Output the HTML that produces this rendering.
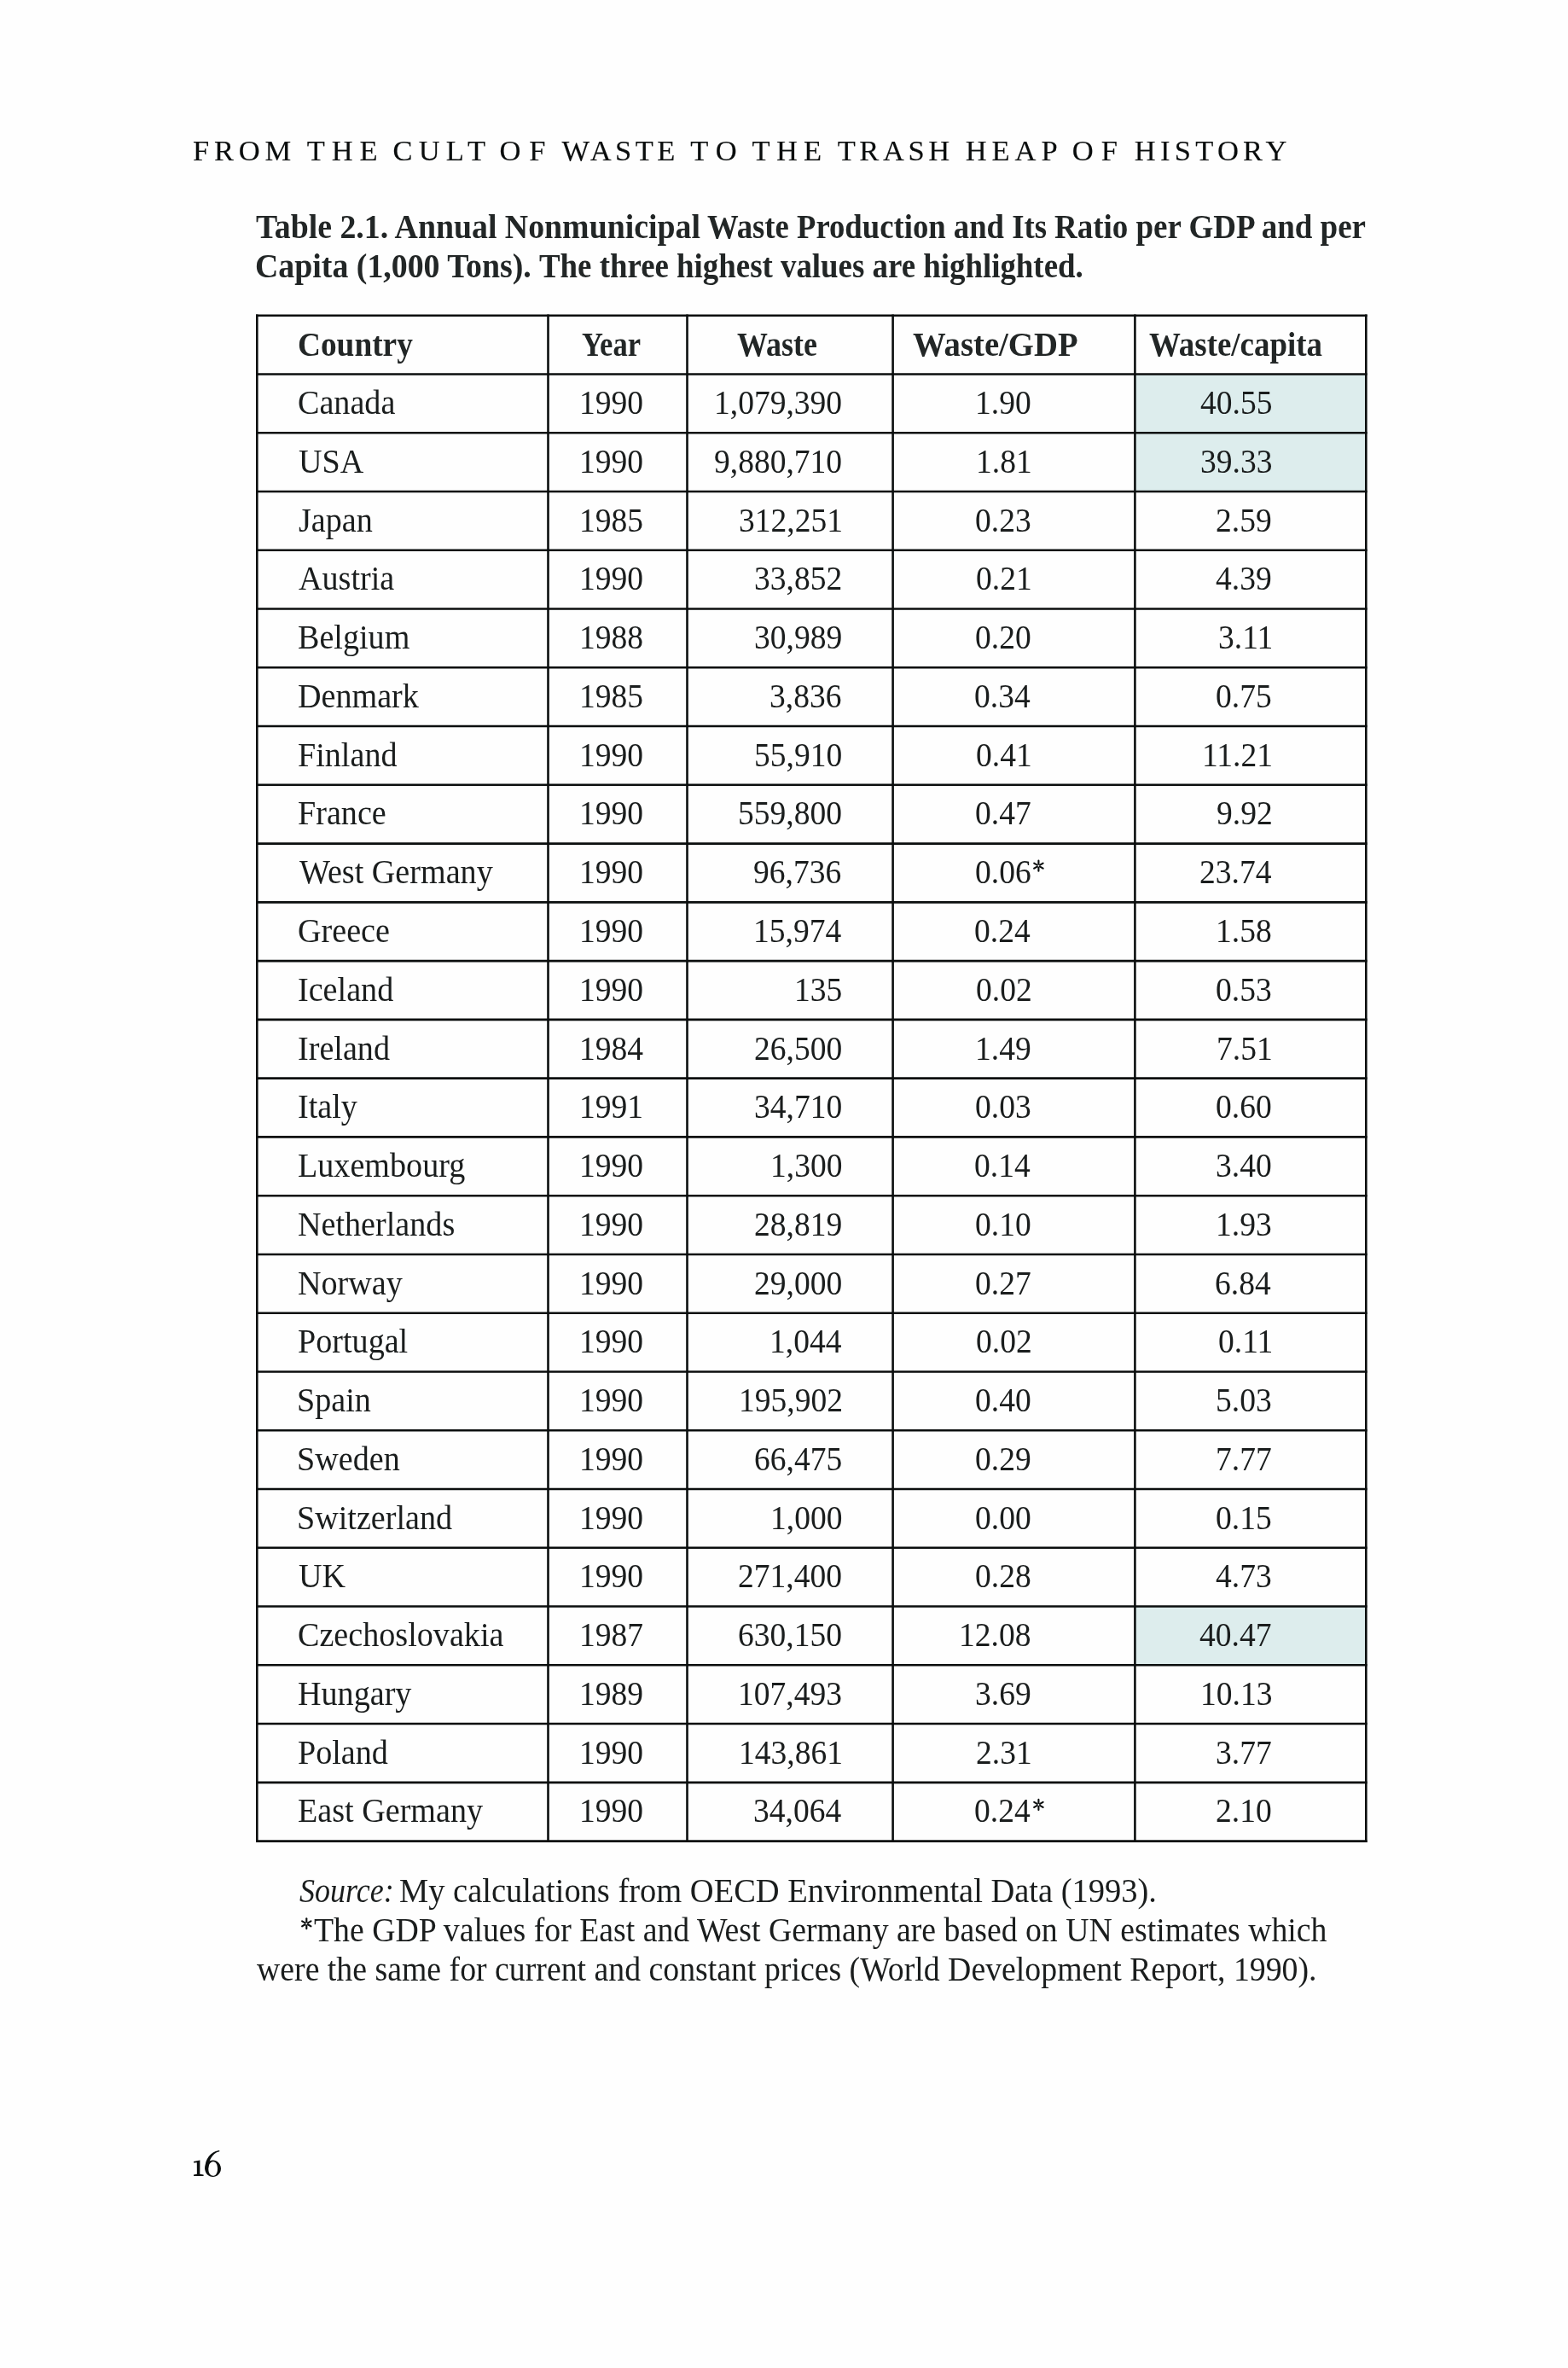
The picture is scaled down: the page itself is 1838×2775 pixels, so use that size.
<!DOCTYPE html>
<html><head><meta charset="utf-8"><style>
html,body{margin:0;padding:0;background:#fefefe;}
#pg{position:relative;width:1838px;height:2775px;overflow:hidden;background:#fefefe;}
#txt{position:absolute;left:0;top:0;width:1838px;height:2775px;will-change:transform;}
#pg span{position:absolute;white-space:nowrap;font-family:"Liberation Serif",serif;color:#1a1d1d;transform-origin:0 0;}
</style></head><body><div id="pg">
<svg width="1838" height="2775" style="position:absolute;left:0;top:0"><rect x="1330.4" y="438.465" width="270.89999999999986" height="68.765" fill="#ddeded"/><rect x="1330.4" y="507.23" width="270.89999999999986" height="68.765" fill="#ddeded"/><rect x="1330.4" y="1882.53" width="270.89999999999986" height="68.765" fill="#ddeded"/><line x1="301.3" y1="368.4" x2="301.3" y2="2158.8900000000003" stroke="#0b0e0e" stroke-width="2.6"/><line x1="642.5" y1="368.4" x2="642.5" y2="2158.8900000000003" stroke="#0b0e0e" stroke-width="2.6"/><line x1="805.5" y1="368.4" x2="805.5" y2="2158.8900000000003" stroke="#0b0e0e" stroke-width="2.6"/><line x1="1046.6" y1="368.4" x2="1046.6" y2="2158.8900000000003" stroke="#0b0e0e" stroke-width="2.6"/><line x1="1330.4" y1="368.4" x2="1330.4" y2="2158.8900000000003" stroke="#0b0e0e" stroke-width="2.6"/><line x1="1601.3" y1="368.4" x2="1601.3" y2="2158.8900000000003" stroke="#0b0e0e" stroke-width="2.6"/><line x1="300.0" y1="369.7" x2="1602.6" y2="369.7" stroke="#0b0e0e" stroke-width="2.6"/><line x1="300.0" y1="438.465" x2="1602.6" y2="438.465" stroke="#0b0e0e" stroke-width="2.6"/><line x1="300.0" y1="507.23" x2="1602.6" y2="507.23" stroke="#0b0e0e" stroke-width="2.6"/><line x1="300.0" y1="575.995" x2="1602.6" y2="575.995" stroke="#0b0e0e" stroke-width="2.6"/><line x1="300.0" y1="644.76" x2="1602.6" y2="644.76" stroke="#0b0e0e" stroke-width="2.6"/><line x1="300.0" y1="713.525" x2="1602.6" y2="713.525" stroke="#0b0e0e" stroke-width="2.6"/><line x1="300.0" y1="782.29" x2="1602.6" y2="782.29" stroke="#0b0e0e" stroke-width="2.6"/><line x1="300.0" y1="851.0550000000001" x2="1602.6" y2="851.0550000000001" stroke="#0b0e0e" stroke-width="2.6"/><line x1="300.0" y1="919.8199999999999" x2="1602.6" y2="919.8199999999999" stroke="#0b0e0e" stroke-width="2.6"/><line x1="300.0" y1="988.585" x2="1602.6" y2="988.585" stroke="#0b0e0e" stroke-width="2.6"/><line x1="300.0" y1="1057.35" x2="1602.6" y2="1057.35" stroke="#0b0e0e" stroke-width="2.6"/><line x1="300.0" y1="1126.115" x2="1602.6" y2="1126.115" stroke="#0b0e0e" stroke-width="2.6"/><line x1="300.0" y1="1194.88" x2="1602.6" y2="1194.88" stroke="#0b0e0e" stroke-width="2.6"/><line x1="300.0" y1="1263.645" x2="1602.6" y2="1263.645" stroke="#0b0e0e" stroke-width="2.6"/><line x1="300.0" y1="1332.41" x2="1602.6" y2="1332.41" stroke="#0b0e0e" stroke-width="2.6"/><line x1="300.0" y1="1401.175" x2="1602.6" y2="1401.175" stroke="#0b0e0e" stroke-width="2.6"/><line x1="300.0" y1="1469.94" x2="1602.6" y2="1469.94" stroke="#0b0e0e" stroke-width="2.6"/><line x1="300.0" y1="1538.7050000000002" x2="1602.6" y2="1538.7050000000002" stroke="#0b0e0e" stroke-width="2.6"/><line x1="300.0" y1="1607.47" x2="1602.6" y2="1607.47" stroke="#0b0e0e" stroke-width="2.6"/><line x1="300.0" y1="1676.2350000000001" x2="1602.6" y2="1676.2350000000001" stroke="#0b0e0e" stroke-width="2.6"/><line x1="300.0" y1="1745.0" x2="1602.6" y2="1745.0" stroke="#0b0e0e" stroke-width="2.6"/><line x1="300.0" y1="1813.765" x2="1602.6" y2="1813.765" stroke="#0b0e0e" stroke-width="2.6"/><line x1="300.0" y1="1882.53" x2="1602.6" y2="1882.53" stroke="#0b0e0e" stroke-width="2.6"/><line x1="300.0" y1="1951.295" x2="1602.6" y2="1951.295" stroke="#0b0e0e" stroke-width="2.6"/><line x1="300.0" y1="2020.0600000000002" x2="1602.6" y2="2020.0600000000002" stroke="#0b0e0e" stroke-width="2.6"/><line x1="300.0" y1="2088.825" x2="1602.6" y2="2088.825" stroke="#0b0e0e" stroke-width="2.6"/><line x1="300.0" y1="2157.59" x2="1602.6" y2="2157.59" stroke="#0b0e0e" stroke-width="2.6"/><line x1="1217.40" y1="1012.74" x2="1217.40" y2="1008.64" stroke="#0b0e0e" stroke-width="2.1" stroke-linecap="round"/><line x1="1215.75" y1="1013.69" x2="1212.20" y2="1011.64" stroke="#0b0e0e" stroke-width="2.1" stroke-linecap="round"/><line x1="1215.75" y1="1015.59" x2="1212.20" y2="1017.64" stroke="#0b0e0e" stroke-width="2.1" stroke-linecap="round"/><line x1="1217.40" y1="1016.54" x2="1217.40" y2="1020.64" stroke="#0b0e0e" stroke-width="2.1" stroke-linecap="round"/><line x1="1219.05" y1="1015.59" x2="1222.60" y2="1017.64" stroke="#0b0e0e" stroke-width="2.1" stroke-linecap="round"/><line x1="1219.05" y1="1013.69" x2="1222.60" y2="1011.64" stroke="#0b0e0e" stroke-width="2.1" stroke-linecap="round"/><line x1="1217.40" y1="2112.97" x2="1217.40" y2="2108.88" stroke="#0b0e0e" stroke-width="2.1" stroke-linecap="round"/><line x1="1215.75" y1="2113.93" x2="1212.20" y2="2111.88" stroke="#0b0e0e" stroke-width="2.1" stroke-linecap="round"/><line x1="1215.75" y1="2115.82" x2="1212.20" y2="2117.88" stroke="#0b0e0e" stroke-width="2.1" stroke-linecap="round"/><line x1="1217.40" y1="2116.78" x2="1217.40" y2="2120.88" stroke="#0b0e0e" stroke-width="2.1" stroke-linecap="round"/><line x1="1219.05" y1="2115.82" x2="1222.60" y2="2117.88" stroke="#0b0e0e" stroke-width="2.1" stroke-linecap="round"/><line x1="1219.05" y1="2113.93" x2="1222.60" y2="2111.88" stroke="#0b0e0e" stroke-width="2.1" stroke-linecap="round"/><line x1="359.30" y1="2252.40" x2="359.30" y2="2248.30" stroke="#0b0e0e" stroke-width="2.1" stroke-linecap="round"/><line x1="357.65" y1="2253.35" x2="354.10" y2="2251.30" stroke="#0b0e0e" stroke-width="2.1" stroke-linecap="round"/><line x1="357.65" y1="2255.25" x2="354.10" y2="2257.30" stroke="#0b0e0e" stroke-width="2.1" stroke-linecap="round"/><line x1="359.30" y1="2256.20" x2="359.30" y2="2260.30" stroke="#0b0e0e" stroke-width="2.1" stroke-linecap="round"/><line x1="360.95" y1="2255.25" x2="364.50" y2="2257.30" stroke="#0b0e0e" stroke-width="2.1" stroke-linecap="round"/><line x1="360.95" y1="2253.35" x2="364.50" y2="2251.30" stroke="#0b0e0e" stroke-width="2.1" stroke-linecap="round"/><path fill="#0b0e0e" fill-rule="evenodd" d="M249.6,2531.6 C254.9,2531.6 259.0,2535.9 259.0,2541.3 C259.0,2546.7 254.9,2551.0 249.6,2551.0 C244.3,2551.0 240.2,2546.7 240.2,2541.3 C240.2,2535.9 244.3,2531.6 249.6,2531.6 Z M249.8,2533.2 C247.2,2533.2 244.3,2535.8 244.3,2541.6 C244.3,2547.2 246.9,2549.8 249.8,2549.8 C252.7,2549.8 255.0,2547.0 255.0,2541.4 C255.0,2535.6 252.6,2533.2 249.8,2533.2 Z"/><path fill="#0b0e0e" d="M240.3,2542.5 C239.8,2529.5 247.5,2521.0 257.2,2520.0 L257.3,2521.2 C250.0,2523.2 244.8,2530.0 244.3,2540.5 Z"/><path fill="#0b0e0e" d="M227.0,2532.9 L234.4,2531.6 L234.3,2547.8 L238.6,2548.6 L238.6,2549.9 L227.0,2549.9 L227.0,2548.6 L230.9,2547.8 L230.8,2534.2 L227.1,2534.6 Z"/></svg>
<div id="txt"><span style="left:226.05px;top:159.00px;font-size:34.5px;line-height:34.5px;font-weight:normal;font-style:normal;letter-spacing:5.759px;color:#0a0d0d;-webkit-text-stroke:0.15px #0a0d0d;">FROM</span>
<span style="left:359.70px;top:159.00px;font-size:34.5px;line-height:34.5px;font-weight:normal;font-style:normal;letter-spacing:7.906px;color:#0a0d0d;-webkit-text-stroke:0.15px #0a0d0d;">THE</span>
<span style="left:460.52px;top:159.00px;font-size:34.5px;line-height:34.5px;font-weight:normal;font-style:normal;letter-spacing:7.215px;color:#0a0d0d;-webkit-text-stroke:0.15px #0a0d0d;">CULT</span>
<span style="left:585.62px;top:159.00px;font-size:34.5px;line-height:34.5px;font-weight:normal;font-style:normal;letter-spacing:9.614px;color:#0a0d0d;-webkit-text-stroke:0.15px #0a0d0d;">OF</span>
<span style="left:658.40px;top:159.00px;font-size:34.5px;line-height:34.5px;font-weight:normal;font-style:normal;letter-spacing:4.513px;color:#0a0d0d;-webkit-text-stroke:0.15px #0a0d0d;">WASTE</span>
<span style="left:809.30px;top:159.00px;font-size:34.5px;line-height:34.5px;font-weight:normal;font-style:normal;letter-spacing:8.916px;color:#0a0d0d;-webkit-text-stroke:0.15px #0a0d0d;">TO</span>
<span style="left:881.60px;top:159.00px;font-size:34.5px;line-height:34.5px;font-weight:normal;font-style:normal;letter-spacing:7.256px;color:#0a0d0d;-webkit-text-stroke:0.15px #0a0d0d;">THE</span>
<span style="left:981.70px;top:159.00px;font-size:34.5px;line-height:34.5px;font-weight:normal;font-style:normal;letter-spacing:4.566px;color:#0a0d0d;-webkit-text-stroke:0.15px #0a0d0d;">TRASH</span>
<span style="left:1131.75px;top:159.00px;font-size:34.5px;line-height:34.5px;font-weight:normal;font-style:normal;letter-spacing:5.932px;color:#0a0d0d;-webkit-text-stroke:0.15px #0a0d0d;">HEAP</span>
<span style="left:1256.82px;top:159.00px;font-size:34.5px;line-height:34.5px;font-weight:normal;font-style:normal;letter-spacing:9.014px;color:#0a0d0d;-webkit-text-stroke:0.15px #0a0d0d;">OF</span>
<span style="left:1329.85px;top:159.00px;font-size:34.5px;line-height:34.5px;font-weight:normal;font-style:normal;letter-spacing:5.257px;color:#0a0d0d;-webkit-text-stroke:0.15px #0a0d0d;">HISTORY</span>
<span style="left:300.33px;top:246.00px;font-size:40px;line-height:40px;font-weight:bold;font-style:normal;transform:scaleX(0.9456);color:#222626;">Table 2.1. Annual Nonmunicipal</span>
<span style="left:829.25px;top:246.00px;font-size:40px;line-height:40px;font-weight:bold;font-style:normal;transform:scaleX(0.9174);color:#222626;">Waste Production and Its</span>
<span style="left:1236.15px;top:246.00px;font-size:40px;line-height:40px;font-weight:bold;font-style:normal;transform:scaleX(0.9245);color:#222626;">Ratio per GDP and per</span>
<span style="left:299.20px;top:292.00px;font-size:40px;line-height:40px;font-weight:bold;font-style:normal;transform:scaleX(0.9460);color:#222626;">Capita (1,000 Tons).</span>
<span style="left:631.75px;top:292.00px;font-size:40px;line-height:40px;font-weight:bold;font-style:normal;transform:scaleX(0.9217);color:#222626;">The three highest values are highlighted.</span>
<span style="left:348.73px;top:384.00px;font-size:40px;line-height:40px;font-weight:bold;font-style:normal;transform:scaleX(0.9332);color:#222626;">Country</span>
<span style="left:681.70px;top:384.00px;font-size:40px;line-height:40px;font-weight:bold;font-style:normal;transform:scaleX(0.8622);color:#222626;">Year</span>
<span style="left:864.16px;top:384.00px;font-size:40px;line-height:40px;font-weight:bold;font-style:normal;transform:scaleX(0.8988);color:#222626;">Waste</span>
<span style="left:1069.92px;top:384.00px;font-size:40px;line-height:40px;font-weight:bold;font-style:normal;transform:scaleX(0.9682);color:#222626;">Waste/GDP</span>
<span style="left:1346.75px;top:384.00px;font-size:40px;line-height:40px;font-weight:bold;font-style:normal;transform:scaleX(0.9223);color:#222626;">Waste/capita</span>
<span style="left:348.97px;top:452.00px;font-size:40px;line-height:40px;font-weight:normal;font-style:normal;transform:scaleX(0.9533);">Canada</span>
<span style="left:678.72px;top:452.00px;font-size:40px;line-height:40px;font-weight:normal;font-style:normal;transform:scaleX(0.9379);">1990</span>
<span style="left:836.85px;top:452.00px;font-size:40px;line-height:40px;font-weight:normal;font-style:normal;transform:scaleX(0.9379);">1,079,390</span>
<span style="left:1143.06px;top:452.00px;font-size:40px;line-height:40px;font-weight:normal;font-style:normal;transform:scaleX(0.9379);">1.90</span>
<span style="left:1406.59px;top:452.00px;font-size:40px;line-height:40px;font-weight:normal;font-style:normal;transform:scaleX(0.9379);">40.55</span>
<span style="left:349.74px;top:521.00px;font-size:40px;line-height:40px;font-weight:normal;font-style:normal;transform:scaleX(0.9533);">USA</span>
<span style="left:678.72px;top:521.00px;font-size:40px;line-height:40px;font-weight:normal;font-style:normal;transform:scaleX(0.9379);">1990</span>
<span style="left:836.85px;top:521.00px;font-size:40px;line-height:40px;font-weight:normal;font-style:normal;transform:scaleX(0.9379);">9,880,710</span>
<span style="left:1143.90px;top:521.00px;font-size:40px;line-height:40px;font-weight:normal;font-style:normal;transform:scaleX(0.9379);">1.81</span>
<span style="left:1406.59px;top:521.00px;font-size:40px;line-height:40px;font-weight:normal;font-style:normal;transform:scaleX(0.9379);">39.33</span>
<span style="left:349.74px;top:590.00px;font-size:40px;line-height:40px;font-weight:normal;font-style:normal;transform:scaleX(0.9533);">Japan</span>
<span style="left:678.72px;top:590.00px;font-size:40px;line-height:40px;font-weight:normal;font-style:normal;transform:scaleX(0.9379);">1985</span>
<span style="left:865.83px;top:590.00px;font-size:40px;line-height:40px;font-weight:normal;font-style:normal;transform:scaleX(0.9379);">312,251</span>
<span style="left:1143.15px;top:590.00px;font-size:40px;line-height:40px;font-weight:normal;font-style:normal;transform:scaleX(0.9379);">0.23</span>
<span style="left:1425.35px;top:590.00px;font-size:40px;line-height:40px;font-weight:normal;font-style:normal;transform:scaleX(0.9379);">2.59</span>
<span style="left:350.12px;top:658.00px;font-size:40px;line-height:40px;font-weight:normal;font-style:normal;transform:scaleX(0.9533);">Austria</span>
<span style="left:678.72px;top:658.00px;font-size:40px;line-height:40px;font-weight:normal;font-style:normal;transform:scaleX(0.9379);">1990</span>
<span style="left:884.40px;top:658.00px;font-size:40px;line-height:40px;font-weight:normal;font-style:normal;transform:scaleX(0.9379);">33,852</span>
<span style="left:1143.90px;top:658.00px;font-size:40px;line-height:40px;font-weight:normal;font-style:normal;transform:scaleX(0.9379);">0.21</span>
<span style="left:1425.35px;top:658.00px;font-size:40px;line-height:40px;font-weight:normal;font-style:normal;transform:scaleX(0.9379);">4.39</span>
<span style="left:349.45px;top:727.00px;font-size:40px;line-height:40px;font-weight:normal;font-style:normal;transform:scaleX(0.9533);">Belgium</span>
<span style="left:678.72px;top:727.00px;font-size:40px;line-height:40px;font-weight:normal;font-style:normal;transform:scaleX(0.9379);">1988</span>
<span style="left:883.83px;top:727.00px;font-size:40px;line-height:40px;font-weight:normal;font-style:normal;transform:scaleX(0.9379);">30,989</span>
<span style="left:1143.06px;top:727.00px;font-size:40px;line-height:40px;font-weight:normal;font-style:normal;transform:scaleX(0.9379);">0.20</span>
<span style="left:1427.51px;top:727.00px;font-size:40px;line-height:40px;font-weight:normal;font-style:normal;transform:scaleX(0.9379);">3.11</span>
<span style="left:349.45px;top:796.00px;font-size:40px;line-height:40px;font-weight:normal;font-style:normal;transform:scaleX(0.9533);">Denmark</span>
<span style="left:678.72px;top:796.00px;font-size:40px;line-height:40px;font-weight:normal;font-style:normal;transform:scaleX(0.9379);">1985</span>
<span style="left:902.22px;top:796.00px;font-size:40px;line-height:40px;font-weight:normal;font-style:normal;transform:scaleX(0.9379);">3,836</span>
<span style="left:1142.21px;top:796.00px;font-size:40px;line-height:40px;font-weight:normal;font-style:normal;transform:scaleX(0.9379);">0.34</span>
<span style="left:1425.35px;top:796.00px;font-size:40px;line-height:40px;font-weight:normal;font-style:normal;transform:scaleX(0.9379);">0.75</span>
<span style="left:349.45px;top:865.00px;font-size:40px;line-height:40px;font-weight:normal;font-style:normal;transform:scaleX(0.9533);">Finland</span>
<span style="left:678.72px;top:865.00px;font-size:40px;line-height:40px;font-weight:normal;font-style:normal;transform:scaleX(0.9379);">1990</span>
<span style="left:883.74px;top:865.00px;font-size:40px;line-height:40px;font-weight:normal;font-style:normal;transform:scaleX(0.9379);">55,910</span>
<span style="left:1143.90px;top:865.00px;font-size:40px;line-height:40px;font-weight:normal;font-style:normal;transform:scaleX(0.9379);">0.41</span>
<span style="left:1408.75px;top:865.00px;font-size:40px;line-height:40px;font-weight:normal;font-style:normal;transform:scaleX(0.9379);">11.21</span>
<span style="left:349.45px;top:933.00px;font-size:40px;line-height:40px;font-weight:normal;font-style:normal;transform:scaleX(0.9533);">France</span>
<span style="left:678.72px;top:933.00px;font-size:40px;line-height:40px;font-weight:normal;font-style:normal;transform:scaleX(0.9379);">1990</span>
<span style="left:864.98px;top:933.00px;font-size:40px;line-height:40px;font-weight:normal;font-style:normal;transform:scaleX(0.9379);">559,800</span>
<span style="left:1142.68px;top:933.00px;font-size:40px;line-height:40px;font-weight:normal;font-style:normal;transform:scaleX(0.9379);">0.47</span>
<span style="left:1425.91px;top:933.00px;font-size:40px;line-height:40px;font-weight:normal;font-style:normal;transform:scaleX(0.9379);">9.92</span>
<span style="left:350.50px;top:1002.00px;font-size:40px;line-height:40px;font-weight:normal;font-style:normal;transform:scaleX(0.9533);">West Germany</span>
<span style="left:678.72px;top:1002.00px;font-size:40px;line-height:40px;font-weight:normal;font-style:normal;transform:scaleX(0.9379);">1990</span>
<span style="left:883.46px;top:1002.00px;font-size:40px;line-height:40px;font-weight:normal;font-style:normal;transform:scaleX(0.9379);">96,736</span>
<span style="left:1142.77px;top:1002.00px;font-size:40px;line-height:40px;font-weight:normal;font-style:normal;transform:scaleX(0.9379);">0.06</span>
<span style="left:1405.65px;top:1002.00px;font-size:40px;line-height:40px;font-weight:normal;font-style:normal;transform:scaleX(0.9379);">23.74</span>
<span style="left:348.97px;top:1071.00px;font-size:40px;line-height:40px;font-weight:normal;font-style:normal;transform:scaleX(0.9533);">Greece</span>
<span style="left:678.72px;top:1071.00px;font-size:40px;line-height:40px;font-weight:normal;font-style:normal;transform:scaleX(0.9379);">1990</span>
<span style="left:882.90px;top:1071.00px;font-size:40px;line-height:40px;font-weight:normal;font-style:normal;transform:scaleX(0.9379);">15,974</span>
<span style="left:1142.21px;top:1071.00px;font-size:40px;line-height:40px;font-weight:normal;font-style:normal;transform:scaleX(0.9379);">0.24</span>
<span style="left:1425.26px;top:1071.00px;font-size:40px;line-height:40px;font-weight:normal;font-style:normal;transform:scaleX(0.9379);">1.58</span>
<span style="left:349.17px;top:1140.00px;font-size:40px;line-height:40px;font-weight:normal;font-style:normal;transform:scaleX(0.9533);">Iceland</span>
<span style="left:678.72px;top:1140.00px;font-size:40px;line-height:40px;font-weight:normal;font-style:normal;transform:scaleX(0.9379);">1990</span>
<span style="left:930.73px;top:1140.00px;font-size:40px;line-height:40px;font-weight:normal;font-style:normal;transform:scaleX(0.9379);">135</span>
<span style="left:1143.71px;top:1140.00px;font-size:40px;line-height:40px;font-weight:normal;font-style:normal;transform:scaleX(0.9379);">0.02</span>
<span style="left:1425.35px;top:1140.00px;font-size:40px;line-height:40px;font-weight:normal;font-style:normal;transform:scaleX(0.9379);">0.53</span>
<span style="left:349.17px;top:1209.00px;font-size:40px;line-height:40px;font-weight:normal;font-style:normal;transform:scaleX(0.9533);">Ireland</span>
<span style="left:678.72px;top:1209.00px;font-size:40px;line-height:40px;font-weight:normal;font-style:normal;transform:scaleX(0.9379);">1984</span>
<span style="left:883.74px;top:1209.00px;font-size:40px;line-height:40px;font-weight:normal;font-style:normal;transform:scaleX(0.9379);">26,500</span>
<span style="left:1143.15px;top:1209.00px;font-size:40px;line-height:40px;font-weight:normal;font-style:normal;transform:scaleX(0.9379);">1.49</span>
<span style="left:1426.10px;top:1209.00px;font-size:40px;line-height:40px;font-weight:normal;font-style:normal;transform:scaleX(0.9379);">7.51</span>
<span style="left:349.17px;top:1277.00px;font-size:40px;line-height:40px;font-weight:normal;font-style:normal;transform:scaleX(0.9533);">Italy</span>
<span style="left:678.72px;top:1277.00px;font-size:40px;line-height:40px;font-weight:normal;font-style:normal;transform:scaleX(0.9379);">1991</span>
<span style="left:883.74px;top:1277.00px;font-size:40px;line-height:40px;font-weight:normal;font-style:normal;transform:scaleX(0.9379);">34,710</span>
<span style="left:1143.15px;top:1277.00px;font-size:40px;line-height:40px;font-weight:normal;font-style:normal;transform:scaleX(0.9379);">0.03</span>
<span style="left:1425.26px;top:1277.00px;font-size:40px;line-height:40px;font-weight:normal;font-style:normal;transform:scaleX(0.9379);">0.60</span>
<span style="left:349.45px;top:1346.00px;font-size:40px;line-height:40px;font-weight:normal;font-style:normal;transform:scaleX(0.9533);">Luxembourg</span>
<span style="left:678.72px;top:1346.00px;font-size:40px;line-height:40px;font-weight:normal;font-style:normal;transform:scaleX(0.9379);">1990</span>
<span style="left:902.50px;top:1346.00px;font-size:40px;line-height:40px;font-weight:normal;font-style:normal;transform:scaleX(0.9379);">1,300</span>
<span style="left:1142.21px;top:1346.00px;font-size:40px;line-height:40px;font-weight:normal;font-style:normal;transform:scaleX(0.9379);">0.14</span>
<span style="left:1425.26px;top:1346.00px;font-size:40px;line-height:40px;font-weight:normal;font-style:normal;transform:scaleX(0.9379);">3.40</span>
<span style="left:349.45px;top:1415.00px;font-size:40px;line-height:40px;font-weight:normal;font-style:normal;transform:scaleX(0.9533);">Netherlands</span>
<span style="left:678.72px;top:1415.00px;font-size:40px;line-height:40px;font-weight:normal;font-style:normal;transform:scaleX(0.9379);">1990</span>
<span style="left:883.83px;top:1415.00px;font-size:40px;line-height:40px;font-weight:normal;font-style:normal;transform:scaleX(0.9379);">28,819</span>
<span style="left:1143.06px;top:1415.00px;font-size:40px;line-height:40px;font-weight:normal;font-style:normal;transform:scaleX(0.9379);">0.10</span>
<span style="left:1425.35px;top:1415.00px;font-size:40px;line-height:40px;font-weight:normal;font-style:normal;transform:scaleX(0.9379);">1.93</span>
<span style="left:349.45px;top:1484.00px;font-size:40px;line-height:40px;font-weight:normal;font-style:normal;transform:scaleX(0.9533);">Norway</span>
<span style="left:678.72px;top:1484.00px;font-size:40px;line-height:40px;font-weight:normal;font-style:normal;transform:scaleX(0.9379);">1990</span>
<span style="left:883.74px;top:1484.00px;font-size:40px;line-height:40px;font-weight:normal;font-style:normal;transform:scaleX(0.9379);">29,000</span>
<span style="left:1142.68px;top:1484.00px;font-size:40px;line-height:40px;font-weight:normal;font-style:normal;transform:scaleX(0.9379);">0.27</span>
<span style="left:1424.41px;top:1484.00px;font-size:40px;line-height:40px;font-weight:normal;font-style:normal;transform:scaleX(0.9379);">6.84</span>
<span style="left:349.45px;top:1552.00px;font-size:40px;line-height:40px;font-weight:normal;font-style:normal;transform:scaleX(0.9533);">Portugal</span>
<span style="left:678.72px;top:1552.00px;font-size:40px;line-height:40px;font-weight:normal;font-style:normal;transform:scaleX(0.9379);">1990</span>
<span style="left:901.65px;top:1552.00px;font-size:40px;line-height:40px;font-weight:normal;font-style:normal;transform:scaleX(0.9379);">1,044</span>
<span style="left:1143.71px;top:1552.00px;font-size:40px;line-height:40px;font-weight:normal;font-style:normal;transform:scaleX(0.9379);">0.02</span>
<span style="left:1427.51px;top:1552.00px;font-size:40px;line-height:40px;font-weight:normal;font-style:normal;transform:scaleX(0.9379);">0.11</span>
<span style="left:347.93px;top:1621.00px;font-size:40px;line-height:40px;font-weight:normal;font-style:normal;transform:scaleX(0.9533);">Spain</span>
<span style="left:678.72px;top:1621.00px;font-size:40px;line-height:40px;font-weight:normal;font-style:normal;transform:scaleX(0.9379);">1990</span>
<span style="left:865.64px;top:1621.00px;font-size:40px;line-height:40px;font-weight:normal;font-style:normal;transform:scaleX(0.9379);">195,902</span>
<span style="left:1143.06px;top:1621.00px;font-size:40px;line-height:40px;font-weight:normal;font-style:normal;transform:scaleX(0.9379);">0.40</span>
<span style="left:1425.35px;top:1621.00px;font-size:40px;line-height:40px;font-weight:normal;font-style:normal;transform:scaleX(0.9379);">5.03</span>
<span style="left:347.93px;top:1690.00px;font-size:40px;line-height:40px;font-weight:normal;font-style:normal;transform:scaleX(0.9533);">Sweden</span>
<span style="left:678.72px;top:1690.00px;font-size:40px;line-height:40px;font-weight:normal;font-style:normal;transform:scaleX(0.9379);">1990</span>
<span style="left:883.83px;top:1690.00px;font-size:40px;line-height:40px;font-weight:normal;font-style:normal;transform:scaleX(0.9379);">66,475</span>
<span style="left:1143.15px;top:1690.00px;font-size:40px;line-height:40px;font-weight:normal;font-style:normal;transform:scaleX(0.9379);">0.29</span>
<span style="left:1424.88px;top:1690.00px;font-size:40px;line-height:40px;font-weight:normal;font-style:normal;transform:scaleX(0.9379);">7.77</span>
<span style="left:347.93px;top:1759.00px;font-size:40px;line-height:40px;font-weight:normal;font-style:normal;transform:scaleX(0.9533);">Switzerland</span>
<span style="left:678.72px;top:1759.00px;font-size:40px;line-height:40px;font-weight:normal;font-style:normal;transform:scaleX(0.9379);">1990</span>
<span style="left:902.50px;top:1759.00px;font-size:40px;line-height:40px;font-weight:normal;font-style:normal;transform:scaleX(0.9379);">1,000</span>
<span style="left:1143.06px;top:1759.00px;font-size:40px;line-height:40px;font-weight:normal;font-style:normal;transform:scaleX(0.9379);">0.00</span>
<span style="left:1425.35px;top:1759.00px;font-size:40px;line-height:40px;font-weight:normal;font-style:normal;transform:scaleX(0.9379);">0.15</span>
<span style="left:349.74px;top:1827.00px;font-size:40px;line-height:40px;font-weight:normal;font-style:normal;transform:scaleX(0.9533);">UK</span>
<span style="left:678.72px;top:1827.00px;font-size:40px;line-height:40px;font-weight:normal;font-style:normal;transform:scaleX(0.9379);">1990</span>
<span style="left:864.98px;top:1827.00px;font-size:40px;line-height:40px;font-weight:normal;font-style:normal;transform:scaleX(0.9379);">271,400</span>
<span style="left:1143.06px;top:1827.00px;font-size:40px;line-height:40px;font-weight:normal;font-style:normal;transform:scaleX(0.9379);">0.28</span>
<span style="left:1425.35px;top:1827.00px;font-size:40px;line-height:40px;font-weight:normal;font-style:normal;transform:scaleX(0.9379);">4.73</span>
<span style="left:348.97px;top:1896.00px;font-size:40px;line-height:40px;font-weight:normal;font-style:normal;transform:scaleX(0.9533);">Czechoslovakia</span>
<span style="left:678.72px;top:1896.00px;font-size:40px;line-height:40px;font-weight:normal;font-style:normal;transform:scaleX(0.9379);">1987</span>
<span style="left:864.98px;top:1896.00px;font-size:40px;line-height:40px;font-weight:normal;font-style:normal;transform:scaleX(0.9379);">630,150</span>
<span style="left:1124.30px;top:1896.00px;font-size:40px;line-height:40px;font-weight:normal;font-style:normal;transform:scaleX(0.9379);">12.08</span>
<span style="left:1406.12px;top:1896.00px;font-size:40px;line-height:40px;font-weight:normal;font-style:normal;transform:scaleX(0.9379);">40.47</span>
<span style="left:349.45px;top:1965.00px;font-size:40px;line-height:40px;font-weight:normal;font-style:normal;transform:scaleX(0.9533);">Hungary</span>
<span style="left:678.72px;top:1965.00px;font-size:40px;line-height:40px;font-weight:normal;font-style:normal;transform:scaleX(0.9379);">1989</span>
<span style="left:865.08px;top:1965.00px;font-size:40px;line-height:40px;font-weight:normal;font-style:normal;transform:scaleX(0.9379);">107,493</span>
<span style="left:1143.15px;top:1965.00px;font-size:40px;line-height:40px;font-weight:normal;font-style:normal;transform:scaleX(0.9379);">3.69</span>
<span style="left:1406.59px;top:1965.00px;font-size:40px;line-height:40px;font-weight:normal;font-style:normal;transform:scaleX(0.9379);">10.13</span>
<span style="left:349.45px;top:2034.00px;font-size:40px;line-height:40px;font-weight:normal;font-style:normal;transform:scaleX(0.9533);">Poland</span>
<span style="left:678.72px;top:2034.00px;font-size:40px;line-height:40px;font-weight:normal;font-style:normal;transform:scaleX(0.9379);">1990</span>
<span style="left:865.83px;top:2034.00px;font-size:40px;line-height:40px;font-weight:normal;font-style:normal;transform:scaleX(0.9379);">143,861</span>
<span style="left:1143.90px;top:2034.00px;font-size:40px;line-height:40px;font-weight:normal;font-style:normal;transform:scaleX(0.9379);">2.31</span>
<span style="left:1424.88px;top:2034.00px;font-size:40px;line-height:40px;font-weight:normal;font-style:normal;transform:scaleX(0.9379);">3.77</span>
<span style="left:349.45px;top:2102.00px;font-size:40px;line-height:40px;font-weight:normal;font-style:normal;transform:scaleX(0.9533);">East Germany</span>
<span style="left:678.72px;top:2102.00px;font-size:40px;line-height:40px;font-weight:normal;font-style:normal;transform:scaleX(0.9379);">1990</span>
<span style="left:882.90px;top:2102.00px;font-size:40px;line-height:40px;font-weight:normal;font-style:normal;transform:scaleX(0.9379);">34,064</span>
<span style="left:1142.21px;top:2102.00px;font-size:40px;line-height:40px;font-weight:normal;font-style:normal;transform:scaleX(0.9379);">0.24</span>
<span style="left:1425.26px;top:2102.00px;font-size:40px;line-height:40px;font-weight:normal;font-style:normal;transform:scaleX(0.9379);">2.10</span>
<span style="left:350.55px;top:2196.00px;font-size:40px;line-height:40px;font-weight:normal;font-style:italic;transform:scaleX(0.9003);">Source:</span>
<span style="left:468.04px;top:2196.00px;font-size:40px;line-height:40px;font-weight:normal;font-style:normal;transform:scaleX(0.9619);">My calculations from OECD Environmental Data (1993).</span>
<span style="left:368.44px;top:2242.00px;font-size:40px;line-height:40px;font-weight:normal;font-style:normal;transform:scaleX(0.9443);">The GDP values for East and West Germany are based on UN estimates which</span>
<span style="left:301.20px;top:2288.00px;font-size:40px;line-height:40px;font-weight:normal;font-style:normal;transform:scaleX(0.9447);">were the same for current and constant prices (World Development Report, 1990).</span></div>
</div></body></html>
